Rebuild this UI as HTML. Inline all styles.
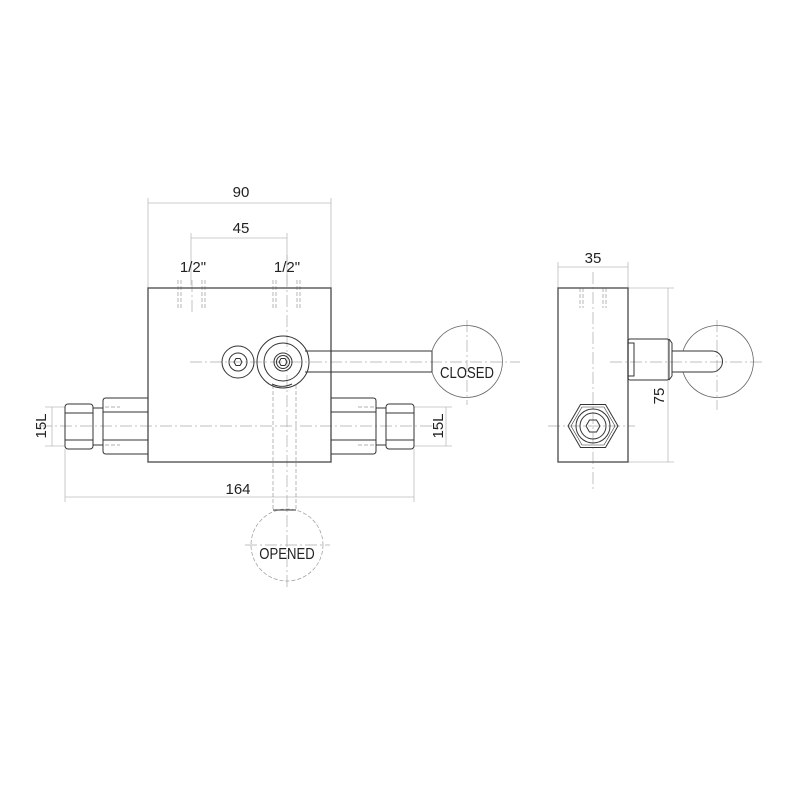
<!DOCTYPE html>
<html><head><style>body{margin:0;background:#fff}svg{display:block}text{font-family:"Liberation Sans",sans-serif}</style></head><body>
<svg width="800" height="800" viewBox="0 0 800 800" xmlns="http://www.w3.org/2000/svg">
<g fill="none" stroke="#bbb" stroke-width="0.8">
<line x1="148" y1="198" x2="148" y2="288"/><line x1="331" y1="198" x2="331" y2="288"/>
<line x1="148" y1="203" x2="331" y2="203"/>
<line x1="191" y1="233" x2="191" y2="285"/><line x1="287" y1="233" x2="287" y2="285"/>
<line x1="191" y1="238" x2="287" y2="238"/>
<line x1="45" y1="407" x2="65" y2="407"/><line x1="45" y1="446" x2="65" y2="446"/>
<line x1="52" y1="407" x2="52" y2="446"/>
<line x1="414" y1="407" x2="452" y2="407"/><line x1="414" y1="446" x2="452" y2="446"/>
<line x1="446" y1="407" x2="446" y2="446"/>
<line x1="65" y1="449" x2="65" y2="502"/><line x1="414" y1="449" x2="414" y2="502"/>
<line x1="65" y1="497" x2="414" y2="497"/>
<line x1="558" y1="262" x2="558" y2="288"/><line x1="628" y1="262" x2="628" y2="288"/>
<line x1="558" y1="267" x2="628" y2="267"/>
<line x1="628" y1="288" x2="674" y2="288"/><line x1="628" y1="462" x2="674" y2="462"/>
<line x1="668" y1="288" x2="668" y2="462"/>
</g>
<g fill="none" stroke="#aaa" stroke-width="0.7" stroke-dasharray="12,3,2,3">
<line x1="40" y1="426" x2="440" y2="426"/>
<line x1="192" y1="280" x2="192" y2="312"/><line x1="287" y1="255" x2="287" y2="590"/>
<line x1="190" y1="362" x2="520" y2="362"/>
<line x1="467" y1="320" x2="467" y2="405"/>
<line x1="245" y1="545" x2="330" y2="545"/>
<line x1="593" y1="272" x2="593" y2="490"/>
<line x1="548" y1="426" x2="635" y2="426"/>
<line x1="610" y1="362" x2="765" y2="362"/>
<line x1="717" y1="320" x2="717" y2="410"/>
</g>
<g fill="none" stroke="#999" stroke-width="0.7" stroke-dasharray="4,2">
<line x1="178" y1="280" x2="178" y2="310"/><line x1="181" y1="280" x2="181" y2="310"/>
<line x1="202" y1="280" x2="202" y2="310"/><line x1="205" y1="280" x2="205" y2="310"/>
<line x1="273" y1="280" x2="273" y2="310"/><line x1="276" y1="280" x2="276" y2="310"/>
<line x1="297" y1="280" x2="297" y2="310"/><line x1="300" y1="280" x2="300" y2="310"/>
<line x1="580" y1="288" x2="580" y2="308"/><line x1="583" y1="288" x2="583" y2="308"/>
<line x1="603" y1="288" x2="603" y2="308"/><line x1="606" y1="288" x2="606" y2="308"/>
<line x1="105" y1="407" x2="120" y2="407"/><line x1="105" y1="445" x2="120" y2="445"/>
<line x1="358" y1="407" x2="375" y2="407"/><line x1="358" y1="445" x2="375" y2="445"/>
<line x1="273" y1="385" x2="273" y2="510"/><line x1="296" y1="385" x2="296" y2="510"/>
<circle cx="287" cy="545" r="36"/>
</g>
<g fill="none" stroke="#333" stroke-width="1">
<rect x="148" y="288" width="183" height="174" stroke="#555" stroke-width="1.4"/>
<path d="M148 398 H106 Q103 398 103 401 V451 Q103 454 106 454 H148"/>
<line x1="103" y1="412" x2="148" y2="412"/><line x1="103" y1="440" x2="148" y2="440"/>
<rect x="93" y="408" width="10" height="37"/>
<rect x="65" y="404" width="28" height="45" rx="3"/>
<line x1="65" y1="413" x2="93" y2="413"/><line x1="65" y1="440" x2="93" y2="440"/>
<path d="M331 398 H373 Q376 398 376 401 V451 Q376 454 373 454 H331"/>
<line x1="331" y1="412" x2="376" y2="412"/><line x1="331" y1="440" x2="376" y2="440"/>
<rect x="376" y="408" width="10" height="37"/>
<rect x="386" y="404" width="28" height="45" rx="3"/>
<line x1="386" y1="413" x2="414" y2="413"/><line x1="386" y1="440" x2="414" y2="440"/>
<circle cx="238" cy="362" r="16"/><circle cx="238" cy="362" r="9"/>
<polygon points="242,362 240,358.5 236,358.5 234,362 236,365.5 240,365.5"/>
<circle cx="283" cy="362" r="26"/>
<circle cx="283" cy="362" r="19"/><circle cx="283" cy="362" r="9"/><circle cx="283" cy="362" r="6.5"/>
<polygon points="287,362 285,358.5 281,358.5 279,362 281,365.5 285,365.5"/>
<path d="M272 384 A23 23 0 0 0 292 384"/>
<path d="M305 351 H432 M305 372 H432 M432 351 V372"/>
<path d="M432 351 A36 36 0 1 1 432 372" stroke="#666" stroke-width="0.8"/>
<line x1="273" y1="510" x2="296" y2="510"/>
<rect x="558" y="288" width="70" height="174" stroke="#555" stroke-width="1.4"/>
<rect x="628" y="339" width="41" height="41" rx="2"/>
<rect x="628" y="343" width="6" height="33"/>
<line x1="669" y1="339" x2="672" y2="343"/><line x1="669" y1="380" x2="672" y2="376"/>
<line x1="672" y1="343" x2="672" y2="376"/>
<path d="M672 351 H712 A10.5 10.5 0 0 1 712 372 H672"/>
<path d="M683 351 A36 36 0 1 1 683 372" stroke="#666" stroke-width="0.8"/>
<polygon points="618,426 605.5,404.5 580.5,404.5 568,426 580.5,447.5 605.5,447.5"/>
<polygon points="615,426 604,407 582,407 571,426 582,445 604,445" stroke-width="0.6"/>
<circle cx="593" cy="426" r="17"/><circle cx="593" cy="426" r="13"/>
<polygon points="600,426 596.5,420 589.5,420 586,426 589.5,432 596.5,432"/>
</g>
<g font-size="15" fill="#222" text-anchor="middle">
<text x="241" y="197">90</text>
<text x="241" y="233">45</text>
<text x="193" y="272">1/2"</text>
<text x="287" y="272">1/2"</text>
<text x="238" y="494">164</text>
<text x="593" y="263">35</text>
<text x="467" y="378" font-size="16" transform="translate(467 378) scale(0.82 1) translate(-467 -378)">CLOSED</text>
<text x="287" y="559" font-size="16" transform="translate(287 559) scale(0.82 1) translate(-287 -559)">OPENED</text>
<text transform="translate(46 426) rotate(-90)" y="0">15L</text>
<text transform="translate(443 426) rotate(-90)" y="0">15L</text>
<text transform="translate(664 396) rotate(-90)" y="0">75</text>
</g>
</svg>
</body></html>
